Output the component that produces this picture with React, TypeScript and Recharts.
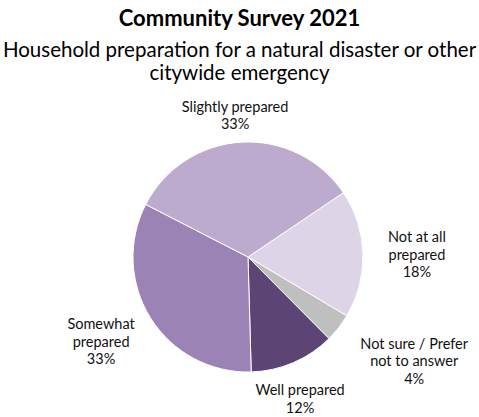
import { PieChart, Pie, Cell } from 'recharts'

const categories = ['Not at all\nprepared', 'Not sure / Prefer\nnot to answer', 'Well prepared', 'Somewhat\nprepared', 'Slightly prepared']
const shares = [18, 4, 12, 33, 33]
const colors = ['#ddd5e7', '#bfbfbf', '#5c4475', '#9b83b6', '#bcabcf']

const data = categories.map((name, i) => ({ name, value: shares[i] }))

// nudges from the default outside-label spot, per slice
const labelNudge = [
    [19, 1],
    [48, 11],
    [-7, 3],
    [-20, 4],
    [-4, 7],
]

const RADIAN = Math.PI / 180
const LINE = 17.5

function renderLabel(props: any) {
    const { cx, cy, midAngle, outerRadius, index, name, value } = props
    const r = outerRadius + 35
    const x = cx + r * Math.cos(-midAngle * RADIAN) + labelNudge[index][0]
    const y = cy + r * Math.sin(-midAngle * RADIAN) + labelNudge[index][1]
    const lines = [...String(name).split('\n'), `${value}%`]
    const y0 = y - ((lines.length - 1) * LINE) / 2
    return (
        <text
            x={x}
            y={y0}
            textAnchor="middle"
            dominantBaseline="central"
            fontFamily="Lato, sans-serif"
            fontSize={14.5}
            fill="#111"
        >
            {lines.map((l, i) => (
                <tspan key={i} x={x} y={y0 + i * LINE} dominantBaseline="central">
                    {l}
                </tspan>
            ))}
        </text>
    )
}

export default function App() {
    return (
        <div
            style={{
                position: 'absolute',
                left: 0,
                top: 0,
                width: 479,
                height: 417,
                background: '#fff',
                fontFamily: 'Lato, sans-serif',
                color: '#000',
            }}
        >
            <div style={{ position: 'absolute', top: 6, left: 0, width: 479, textAlign: 'center', fontSize: 22, fontWeight: 700, lineHeight: '24px' }}>
                Community Survey 2021
            </div>
            <div style={{ position: 'absolute', top: 38, left: 0, width: 479, textAlign: 'center', fontSize: 20.5, lineHeight: '23px' }}>
                Household preparation for a natural disaster or other
                <br />
                citywide emergency
            </div>
            <PieChart
                width={479}
                height={417}
                margin={{ top: 0, right: 0, bottom: 0, left: 0 }}
                style={{ position: 'absolute', left: 0, top: 0 }}
            >
                <Pie
                    data={data}
                    dataKey="value"
                    nameKey="name"
                    cx={248}
                    cy={257}
                    outerRadius={115}
                    startAngle={34}
                    endAngle={-326}
                    stroke="#ffffff"
                    strokeWidth={1}
                    label={renderLabel}
                    labelLine={false}
                    isAnimationActive={false}
                >
                    {data.map((d, i) => (
                        <Cell key={d.name} fill={colors[i]} />
                    ))}
                </Pie>
            </PieChart>
        </div>
    )
}
